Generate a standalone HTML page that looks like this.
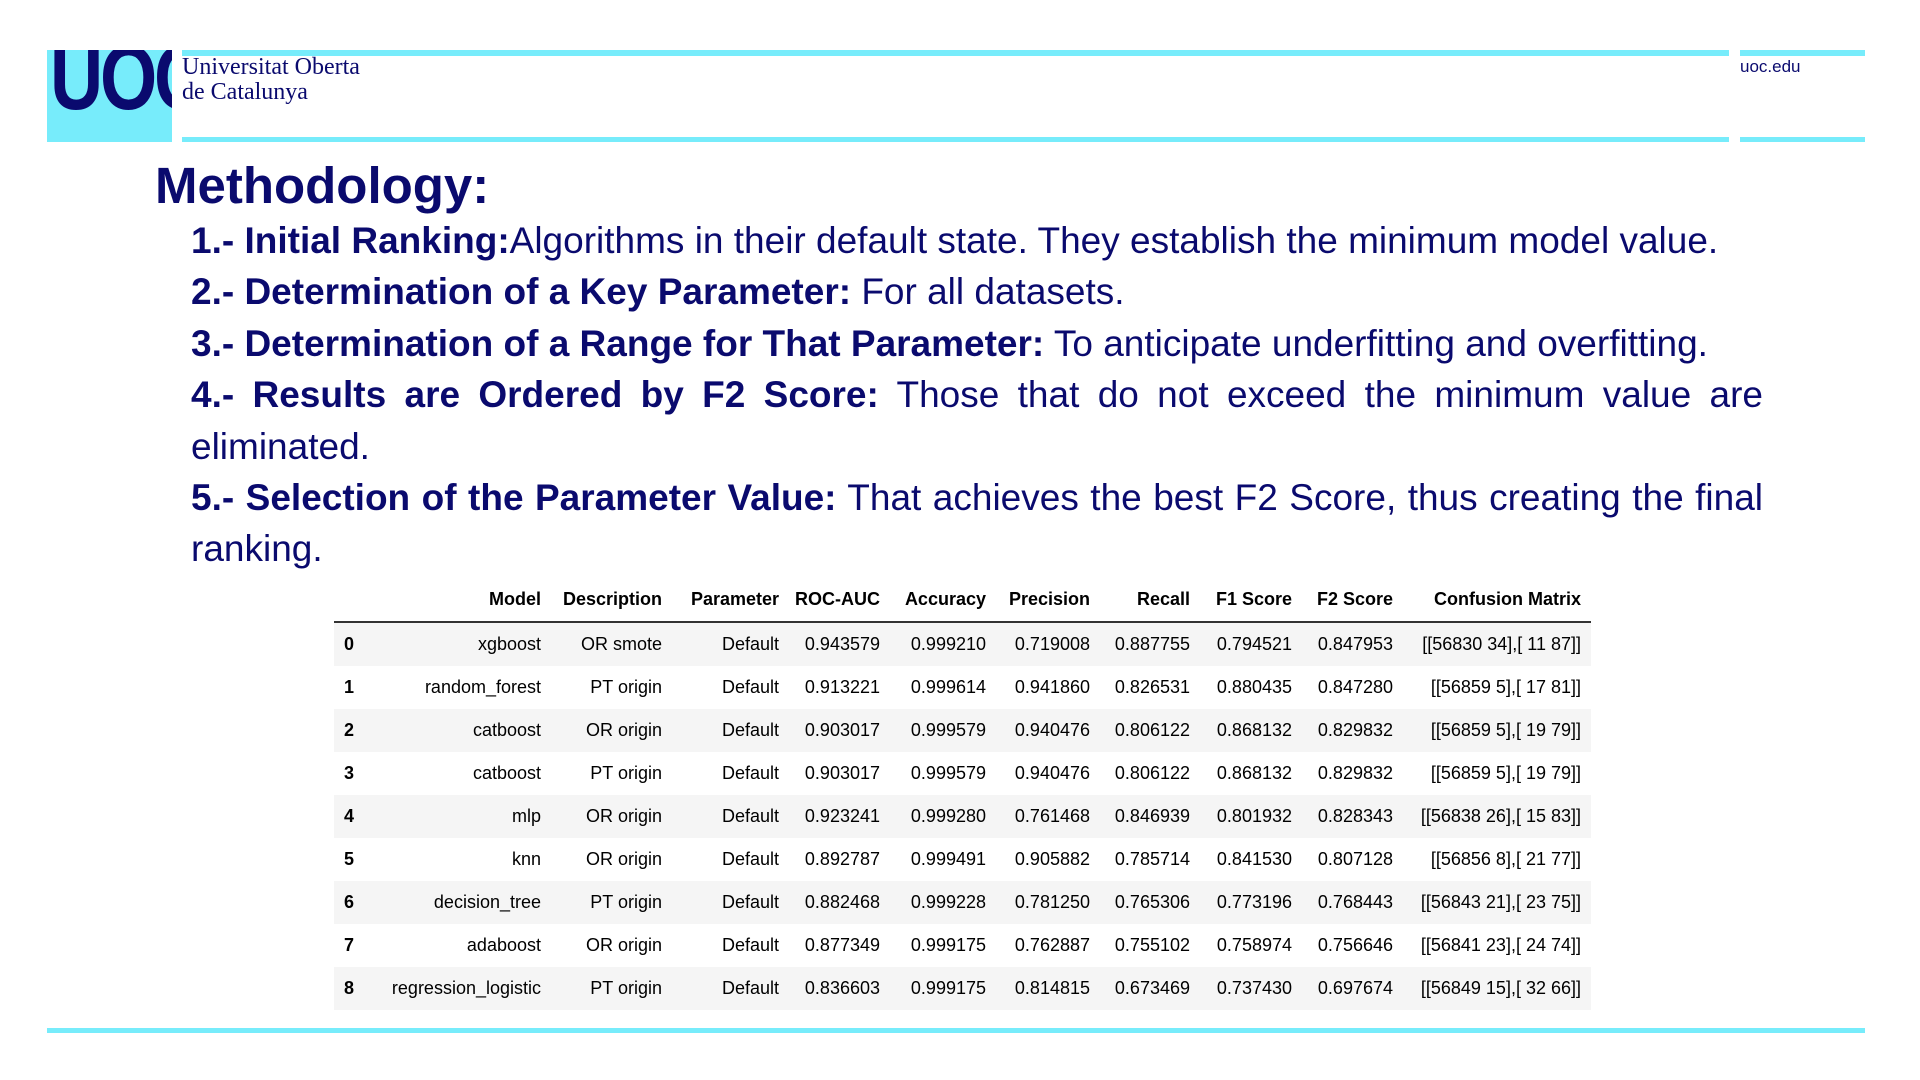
<!DOCTYPE html>
<html><head><meta charset="utf-8"><style>
body{margin:0;width:1920px;height:1080px;background:#fff;position:relative;overflow:hidden;font-family:"Liberation Sans",Arial,sans-serif;}
.bar{position:absolute;background:#77ecfb;}
.logo{position:absolute;left:47px;top:50px;width:125px;height:92px;background:#77ecfb;overflow:hidden;}
.logo span{position:absolute;top:-24px;left:3px;font:bold 92px "Liberation Sans",sans-serif;color:#0a0a6e;letter-spacing:-4px;transform:scaleX(0.8);transform-origin:left top;}
.uni{position:absolute;left:182px;top:55px;font:24px/25px "Liberation Serif",serif;color:#0a0a6e;}
.edu{position:absolute;left:1740px;top:57px;font:17px "Liberation Sans",sans-serif;color:#0a0a6e;}
h1{position:absolute;left:155px;top:158px;margin:0;font:bold 51px/56px "Liberation Sans",sans-serif;color:#0a0a6e;}
.list{position:absolute;left:191px;top:215px;width:1572px;font:37px/51.4px "Liberation Sans",sans-serif;color:#0a0a6e;}
.list p{margin:0;text-align:justify;}
.list b{font-weight:bold;}
table{position:absolute;left:334px;top:578px;border-collapse:collapse;table-layout:fixed;font:18px "Liberation Sans",sans-serif;color:#000;}
td,th{padding:0;text-align:right;height:43px;white-space:nowrap;}
th{font-weight:bold;border-bottom:2px solid #333;}
td.i{text-align:left;padding-left:10px;font-weight:bold;}
tr.g td{background:#f5f5f5;}
</style></head><body>
<div class="logo"><span>UOC</span></div>
<div class="bar" style="left:182px;top:50px;width:1547px;height:6px"></div>
<div class="bar" style="left:1740px;top:50px;width:125px;height:6px"></div>
<div class="bar" style="left:182px;top:137px;width:1547px;height:5px"></div>
<div class="bar" style="left:1740px;top:137px;width:125px;height:5px"></div>
<div class="uni">Universitat Oberta<br>de Catalunya</div>
<div class="edu">uoc.edu</div>
<h1>Methodology:</h1>
<div class="list">
<p><b>1.- Initial Ranking:</b>Algorithms in their default state. They establish the minimum model value.</p>
<p><b>2.- Determination of a Key Parameter:</b> For all datasets.</p>
<p><b>3.- Determination of a Range for That Parameter:</b> To anticipate underfitting and overfitting.</p>
<p><b>4.- Results are Ordered by F2 Score:</b> Those that do not exceed the minimum value are eliminated.</p>
<p><b>5.- Selection of the Parameter Value:</b> That achieves the best F2 Score, thus creating the final ranking.</p>
</div>
<table>
<colgroup><col style="width:26px"><col style="width:181px"><col style="width:121px"><col style="width:117px"><col style="width:101px"><col style="width:106px"><col style="width:104px"><col style="width:100px"><col style="width:102px"><col style="width:101px"><col style="width:198px"></colgroup>
<tr><th></th><th>Model</th><th>Description</th><th>Parameter</th><th>ROC-AUC</th><th>Accuracy</th><th>Precision</th><th>Recall</th><th>F1 Score</th><th>F2 Score</th><th style="padding-right:10px">Confusion Matrix</th></tr>
<tr class="g"><td class="i">0</td><td>xgboost</td><td>OR smote</td><td>Default</td><td>0.943579</td><td>0.999210</td><td>0.719008</td><td>0.887755</td><td>0.794521</td><td>0.847953</td><td style="padding-right:10px">[[56830 34],[ 11 87]]</td></tr>
<tr><td class="i">1</td><td>random_forest</td><td>PT origin</td><td>Default</td><td>0.913221</td><td>0.999614</td><td>0.941860</td><td>0.826531</td><td>0.880435</td><td>0.847280</td><td style="padding-right:10px">[[56859 5],[ 17 81]]</td></tr>
<tr class="g"><td class="i">2</td><td>catboost</td><td>OR origin</td><td>Default</td><td>0.903017</td><td>0.999579</td><td>0.940476</td><td>0.806122</td><td>0.868132</td><td>0.829832</td><td style="padding-right:10px">[[56859 5],[ 19 79]]</td></tr>
<tr><td class="i">3</td><td>catboost</td><td>PT origin</td><td>Default</td><td>0.903017</td><td>0.999579</td><td>0.940476</td><td>0.806122</td><td>0.868132</td><td>0.829832</td><td style="padding-right:10px">[[56859 5],[ 19 79]]</td></tr>
<tr class="g"><td class="i">4</td><td>mlp</td><td>OR origin</td><td>Default</td><td>0.923241</td><td>0.999280</td><td>0.761468</td><td>0.846939</td><td>0.801932</td><td>0.828343</td><td style="padding-right:10px">[[56838 26],[ 15 83]]</td></tr>
<tr><td class="i">5</td><td>knn</td><td>OR origin</td><td>Default</td><td>0.892787</td><td>0.999491</td><td>0.905882</td><td>0.785714</td><td>0.841530</td><td>0.807128</td><td style="padding-right:10px">[[56856 8],[ 21 77]]</td></tr>
<tr class="g"><td class="i">6</td><td>decision_tree</td><td>PT origin</td><td>Default</td><td>0.882468</td><td>0.999228</td><td>0.781250</td><td>0.765306</td><td>0.773196</td><td>0.768443</td><td style="padding-right:10px">[[56843 21],[ 23 75]]</td></tr>
<tr><td class="i">7</td><td>adaboost</td><td>OR origin</td><td>Default</td><td>0.877349</td><td>0.999175</td><td>0.762887</td><td>0.755102</td><td>0.758974</td><td>0.756646</td><td style="padding-right:10px">[[56841 23],[ 24 74]]</td></tr>
<tr class="g"><td class="i">8</td><td>regression_logistic</td><td>PT origin</td><td>Default</td><td>0.836603</td><td>0.999175</td><td>0.814815</td><td>0.673469</td><td>0.737430</td><td>0.697674</td><td style="padding-right:10px">[[56849 15],[ 32 66]]</td></tr>
</table>
<div class="bar" style="left:47px;top:1028px;width:1818px;height:5px"></div>
</body></html>
